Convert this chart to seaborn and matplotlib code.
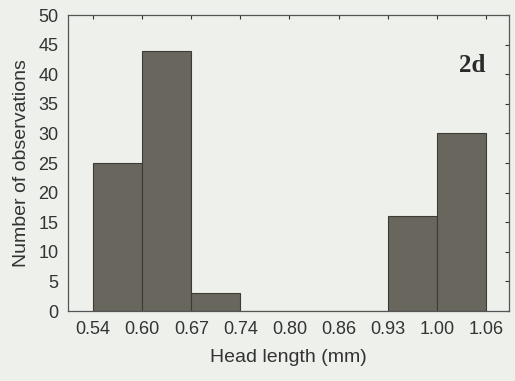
import numpy as np
import pandas as pd
import matplotlib
matplotlib.use("Agg")
import matplotlib.pyplot as plt
import seaborn as sns

# Head length bin edges (mm) and number of observations per bin
bin_edges = ["0.54", "0.60", "0.67", "0.74", "0.80", "0.86", "0.93", "1.00", "1.06"]
counts = [25, 44, 3, 0, 0, 0, 16, 30]
panel_label = "2d"

sns.set_theme(style="white")
plt.rcParams["font.family"] = ["Liberation Sans", "DejaVu Sans"]

bg = "#eef0ec"
bar_color = "#68665d"
text_color = "#333333"

df = pd.DataFrame({"bin": np.arange(len(counts)) + 0.5, "count": counts})

fig = plt.figure(figsize=(5.15, 3.81), dpi=100, facecolor=bg)
ax = fig.add_axes([68 / 515, 70 / 381, 441 / 515, 296 / 381])
ax.set_facecolor(bg)

sns.histplot(data=df, x="bin", weights="count", binwidth=1, binrange=(0, len(counts)),
             color=bar_color, alpha=1.0, edgecolor="#3c3b35", linewidth=0.8, ax=ax)

ax.set_xlim(-0.51, 8.47)
ax.set_ylim(0, 50)
ax.set_xticks(np.arange(len(bin_edges)))
ax.set_xticklabels(bin_edges)
ax.set_yticks(np.arange(0, 51, 5))

ax.tick_params(axis="both", which="both", labelsize=13, colors=text_color,
               direction="in", length=3, width=0.8,
               top=True, right=True, bottom=False, left=False)
ax.tick_params(axis="x", labelcolor=text_color, pad=7)
ax.tick_params(axis="y", labelcolor=text_color, pad=7)

for s in ax.spines.values():
    s.set_color("#555555")
    s.set_linewidth(0.9)

ax.set_xlabel("Head length (mm)", fontsize=14, color=text_color, labelpad=8)
ax.set_ylabel("Number of observations", fontsize=14, color=text_color, labelpad=6)

ax.text(0.916, 0.83, panel_label, transform=ax.transAxes, ha="center", va="center",
        fontsize=18, fontweight="bold", family="Liberation Serif", color="#2a2a2a")

fig.savefig("out.png", dpi=100, facecolor=bg)
